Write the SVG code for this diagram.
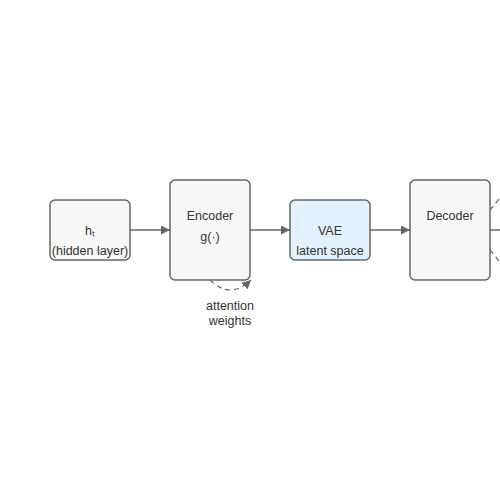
<svg xmlns="http://www.w3.org/2000/svg" width="500" height="500" viewBox="0 0 500 500">
<defs>
<marker id="arr" viewBox="0 0 10 10" refX="10" refY="5" markerWidth="9" markerHeight="9" markerUnits="userSpaceOnUse" orient="auto">
<path d="M0,0 L10,5 L0,10 z" fill="#666"/>
</marker>
<style>
.box{fill:#f7f7f7;stroke:#666;stroke-width:1.5}
.blue{fill:#e3f0fd;stroke:#666;stroke-width:1.5}
.t{font-family:"Liberation Sans",Arial,sans-serif;font-size:12.5px;fill:#333;text-anchor:middle}
.c{fill:none;stroke:#666;stroke-width:1.5}
.d{fill:none;stroke:#666;stroke-width:1.2;stroke-dasharray:5,4}
</style>
</defs>
<rect width="500" height="500" fill="#fff"/>
<g id="connectors">
<line class="c" x1="130" y1="230" x2="170" y2="230" marker-end="url(#arr)"/>
<line class="c" x1="250" y1="230" x2="290" y2="230" marker-end="url(#arr)"/>
<line class="c" x1="370" y1="230" x2="410" y2="230" marker-end="url(#arr)"/>
<line class="c" x1="490" y1="230" x2="502" y2="230"/>
<path class="d" d="M210,280 Q230,300 251,280" marker-end="url(#arr)"/>
<line class="d" x1="490" y1="210" x2="508" y2="188"/>
<line class="d" x1="490" y1="250" x2="508" y2="272"/>
</g>
<g id="hidden">
<rect class="box" x="50" y="200" width="80" height="60" rx="5"/>
<text class="t" x="90" y="235">hₜ</text>
<text class="t" x="90" y="255">(hidden layer)</text>
</g>
<g id="encoder">
<rect class="box" x="170" y="180" width="80" height="100" rx="5"/>
<text class="t" x="210" y="220">Encoder</text>
<text class="t" x="210" y="241">g(·)</text>
</g>
<g id="vae">
<rect class="blue" x="290" y="200" width="80" height="60" rx="5"/>
<text class="t" x="330" y="235">VAE</text>
<text class="t" x="330" y="255">latent space</text>
</g>
<g id="decoder">
<rect class="box" x="410" y="180" width="80" height="100" rx="5"/>
<text class="t" x="450" y="220">Decoder</text>
</g>
<g id="attention-label">
<text class="t" x="230" y="310">attention</text>
<text class="t" x="230" y="325">weights</text>
</g>
</svg>
